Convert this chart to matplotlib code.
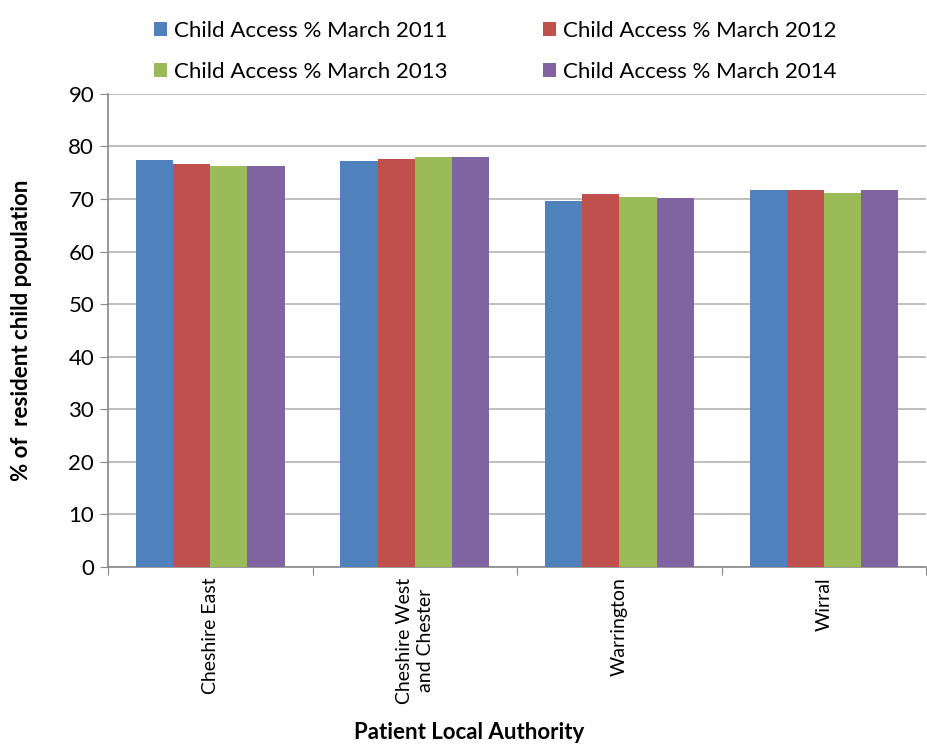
import matplotlib.pyplot as plt
import numpy as np

plt.rcParams['font.family'] = ['Lato', 'DejaVu Sans']

authorities = ['Cheshire East', 'Cheshire West\nand Chester', 'Warrington', 'Wirral']
series_names = ['Child Access % March 2011', 'Child Access % March 2012',
                'Child Access % March 2013', 'Child Access % March 2014']
access_2011 = [77.5, 77.3, 69.6, 71.7]
access_2012 = [76.6, 77.7, 71.0, 71.7]
access_2013 = [76.2, 77.9, 70.4, 71.2]
access_2014 = [76.2, 77.9, 70.1, 71.7]
colors = ['#4F81BD', '#C0504D', '#9BBB59', '#8064A2']

fig = plt.figure(figsize=(9.28, 7.45), dpi=100)
ax = fig.add_axes([0.1164, 0.239, 0.8816, 0.635])

x = np.arange(len(authorities))
w = 1 / 5.5
all_series = [access_2011, access_2012, access_2013, access_2014]
bars = []
for i, vals in enumerate(all_series):
    b = ax.bar(x + (i - 1.5) * w, vals, width=w, color=colors[i], label=series_names[i], zorder=3)
    bars.append(b)

ax.set_xlim(-0.5, len(authorities) - 0.5)
ax.set_ylim(0, 90)
ax.set_yticks(np.arange(0, 91, 10))
ax.yaxis.grid(True, color='#B3B3B3', linewidth=1.2, zorder=0)
ax.tick_params(axis='y', labelsize=16, length=6, color='#888888', pad=4)

# category labels rotated, ticks at group boundaries
ax.set_xticks(np.arange(-0.5, len(authorities), 1))
ax.set_xticklabels([])
ax.tick_params(axis='x', length=6, color='#888888')
for xi, name in zip(x, authorities):
    ax.text(xi, -2.0, name, rotation=90, ha='center', va='top', fontsize=14,
            multialignment='center', linespacing=1.3)

for side in ['top', 'right']:
    ax.spines[side].set_visible(False)
for side in ['left', 'bottom']:
    ax.spines[side].set_color('#888888')
    ax.spines[side].set_linewidth(1.2)

ax.set_ylabel('% of  resident child population', fontsize=16, fontweight='bold', labelpad=26)
fig.text(0.505, 0.003, 'Patient Local Authority', ha='center', va='bottom', fontsize=16, fontweight='bold')

# legend filled row by row: 2011, 2012 / 2013, 2014
order = [0, 2, 1, 3]
ax.legend([bars[i] for i in order], [series_names[i] for i in order],
          loc='lower center', bbox_to_anchor=(0.473, 1.0), ncol=2, frameon=False,
          fontsize=16, handlelength=0.6, handleheight=0.6, handletextpad=0.3,
          columnspacing=4.3, labelspacing=0.95, borderaxespad=0.15)

fig.savefig('out.png', dpi=100)
